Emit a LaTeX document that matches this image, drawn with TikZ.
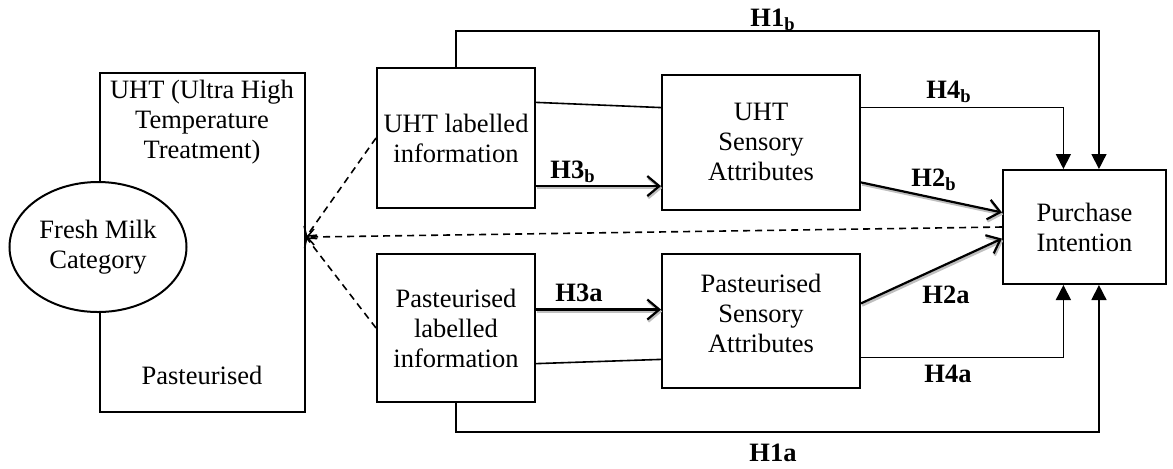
\documentclass[tikz,border=0pt]{standalone}
\usepackage{fontspec}
\setmainfont{Liberation Serif}
\usetikzlibrary{arrows.meta,shapes.geometric,positioning}

\begin{document}
\begin{tikzpicture}[x=0.5pt,y=-0.5pt,line width=0.8pt,
        font=\fontsize{13.25}{15}\selectfont,
        cnx/.style={-{Triangle[length=7.5pt,width=7.5pt]}},
        hyp/.style={-{Straight Barb[length=6pt,width=10pt]},line width=1.1pt,
          preaction={draw=gray!50,line width=1.3pt,transform canvas={shift={(0.6pt,-1pt)}}}},
        dsh/.style={dash pattern=on 3.5pt off 2.5pt,-{Straight Barb[length=3.5pt,width=8pt]}},
        lab/.style={font=\fontsize{13.25}{15}\selectfont\bfseries}]%
        \useasboundingbox (0,0) rectangle (1173,468); %%
        %\draw[step=50,color=gray,very thin] (0,0) grid (1173,468);%%
        \begin{scope}[shape=rectangle,inner sep=0pt,align=center]
        \tikzset{every node/.style={draw,line width=1pt}} %%
        \node[minimum width=102.5pt,minimum height=169.5pt] (cat) at (202.5,242.5) {}; %%
        \node[minimum width=79pt,minimum height=70pt] (uhtinfo) at (456,138) {UHT labelled\\information}; %%
        \node[minimum width=79pt,minimum height=74pt] (pasinfo) at (456,328) {Pasteurised\\labelled\\information}; %%
        \node[minimum width=99pt,minimum height=67.5pt] (uhtsens) at (761,142) {UHT\\Sensory\\Attributes}; %%
        \node[minimum width=99pt,minimum height=67pt] (passens) at (761,321) {}; %%
        \node[minimum width=81.5pt,minimum height=57pt] (purch) at (1084.5,227) {Purchase\\Intention}; %%
        \end{scope}%
        \node[align=center] (passtxt) at (761,313) {Pasteurised\\Sensory\\Attributes}; %%
        \node[align=center] (uhtcat) at (202,122) {UHT (Ultra High\\Temperature\\Treatment)}; %%
        \node (pascat) at (202,375) {Pasteurised}; %%
        \node[draw,ellipse,line width=1pt,fill=white,inner sep=0pt,align=center,
              minimum width=88.5pt,minimum height=65pt] (milk) at (98,247) {Fresh Milk\\Category}; %%
        % links into the category box
        \draw[dsh] (uhtinfo.west)--(cat.3); %%
        \draw[dsh] (pasinfo.west)--(cat.3); %%
        \draw[dsh] (purch.west)--(cat.3); %%
        % plain links between the boxes
        \draw (uhtinfo.24.5)--(uhtsens.161); %%
        \draw (pasinfo.-24.5)--(passens.-159.5); %%
        % hypotheses
        \draw[hyp] (uhtinfo.-31.8)--(uhtinfo.-31.8 -| uhtsens.west); %%
        \draw[hyp] (pasinfo.13.5)--(pasinfo.13.5 -| passens.west); %%
        \draw[hyp] (uhtsens.-22.5)--(purch.170.3); %%
        \draw[hyp] (passens.10.9)--(purch.-172.3); %%
        \draw[cnx] (uhtsens.19) -| (purch.110.7); %%
        \draw[cnx] (passens.-20) -| (purch.-110.7); %%
        \draw[cnx] (uhtinfo.north)-- +(0,-36) -| (purch.76.7); %%
        \draw[cnx] (pasinfo.south)-- +(0,29) -| (purch.-76.7); %%
        % hypothesis labels
        \node[lab] (lh1b) at (773,20) {H1\textsubscript{b}}; %%
        \node[lab] (lh4b) at (949,92) {H4\textsubscript{b}}; %%
        \node[lab] (lh3b) at (573,172) {H3\textsubscript{b}}; %%
        \node[lab] (lh2b) at (934,180) {H2\textsubscript{b}}; %%
        \node[lab] (lh3a) at (579,293) {H3a}; %%
        \node[lab] (lh2a) at (946,295) {H2a}; %%
        \node[lab] (lh4a) at (948,374) {H4a}; %%
        \node[lab] (lh1a) at (773,453) {H1a}; %%
\end{tikzpicture}
\end{document}
